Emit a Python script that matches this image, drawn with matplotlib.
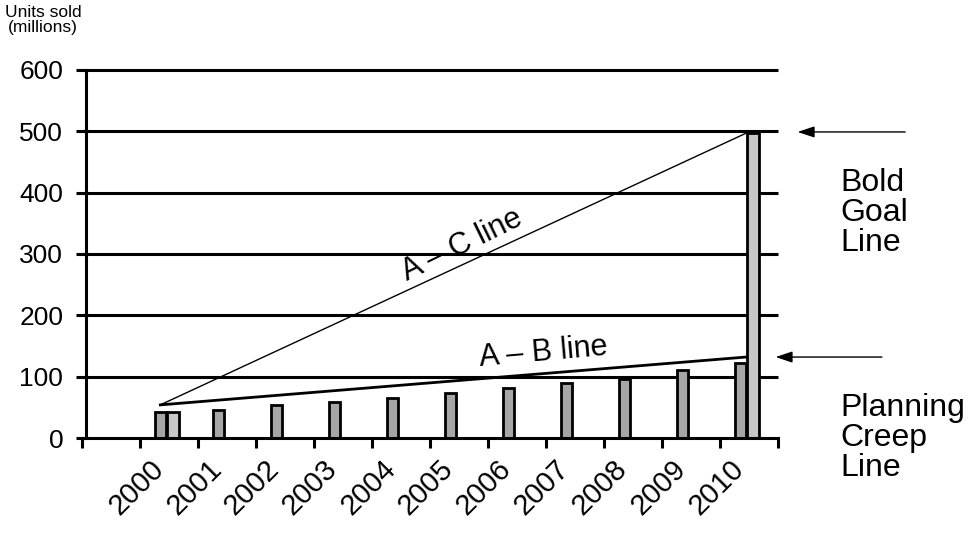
import numpy as np
import matplotlib
matplotlib.use("Agg")
import matplotlib.pyplot as plt

plt.rcParams['font.family'] = ['Liberation Sans', 'DejaVu Sans']

# data
years = ['2000', '2001', '2002', '2003', '2004', '2005', '2006', '2007', '2008', '2009', '2010']
units = [42, 45, 53, 58, 66, 74, 82, 90, 97, 111, 122]        # yearly units sold
goal = {'2000': 42, '2010': 497}                               # start / bold goal bars
yticks = [0, 100, 200, 300, 400, 500, 600]
ac_line = [54, 497]   # A - C line from start to bold goal
ab_line = [54, 132]   # A - B line from start to planning creep

fig = plt.figure(figsize=(9.76, 5.38), dpi=100)
ax = fig.add_axes([82 / 976, 1 - 438 / 538, 696 / 976, 368 / 538])

x = np.arange(1, len(years) + 1)   # slot 0 is left empty like in the original

# horizontal rules behind the bars
ax.hlines(yticks[1:], -0.5, 11.5, color='black', lw=2.2, zorder=1, clip_on=False)

ax.bar(x - 0.15, units, width=0.2, color='#a6a6a6', edgecolor='black', lw=2.0, zorder=2)
gx = [years.index(k) + 1 for k in goal]
ax.bar(np.array(gx) + 0.07, list(goal.values()), width=0.2, color='#c8c8c8',
       edgecolor='black', lw=2.0, zorder=2)

# A-C and A-B lines
x0, x1 = 0.85, 10.95
ax.plot([x0, x1], ac_line, color='black', lw=1.0, zorder=3)
ax.plot([x0, x1], ab_line, color='black', lw=2.0, zorder=3)
ax.text(6.05, 314, 'A \u2013 C line', rotation=26, ha='center', va='center', fontsize=22)
ax.text(7.45, 140, 'A \u2013 B line', rotation=5, ha='center', va='center', fontsize=22)

ax.set_xlim(-0.5, 11.5)
ax.set_ylim(0, 600)
ax.spines['top'].set_visible(False)
ax.spines['right'].set_visible(False)
ax.spines['left'].set_position(('data', -0.43))
ax.spines['left'].set_linewidth(2.2)
ax.spines['bottom'].set_linewidth(2.2)

ax.set_yticks(yticks)
ax.tick_params(axis='y', direction='out', length=7.5, width=2.2, pad=9, labelsize=19)

ax.set_xticks(np.arange(-0.5, 12, 1))
ax.set_xticklabels([])
ax.tick_params(axis='x', which='major', direction='out', length=7, width=2.2)
ax.set_xticks(x, years, minor=True)
ax.tick_params(axis='x', which='minor', length=0, pad=12, labelsize=21)
for lab in ax.get_xticklabels(minor=True):
    lab.set_rotation(45)
    lab.set_ha('right')
    lab.set_va('top')

# arrows and notes on the right
arrow = dict(arrowstyle='-|>,head_length=0.6,head_width=0.2', color='black',
             lw=1.0, mutation_scale=17)
ax.annotate('', xy=(11.79, 499), xytext=(13.74, 499), arrowprops=arrow,
            annotation_clip=False)
ax.annotate('', xy=(11.41, 132), xytext=(13.34, 132), arrowprops=arrow,
            annotation_clip=False)
ax.text(12.57, 440, 'Bold\nGoal\nLine', ha='left', va='top', fontsize=23, linespacing=1.0)
ax.text(12.57, 73, 'Planning\nCreep\nLine', ha='left', va='top', fontsize=23, linespacing=1.0)

fig.text(43 / 976, 1 - 5 / 538, 'Units sold\n(millions)', ha='center', va='top',
         fontsize=12.5, linespacing=1.0)

fig.savefig('out.png', dpi=100)
